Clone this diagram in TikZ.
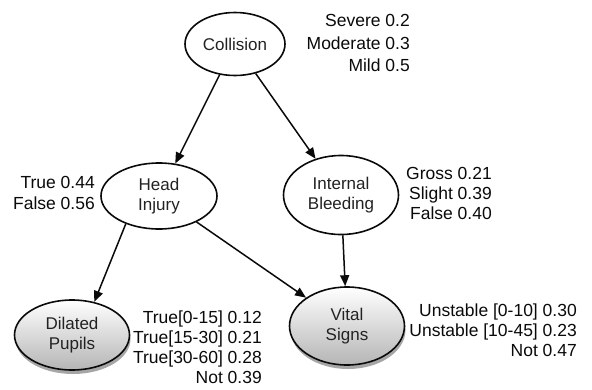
\documentclass[tikz,border=0pt]{standalone}
\usepackage{fontspec}
\setmainfont{Liberation Sans}
\usepackage{tikz}
\usetikzlibrary{arrows.meta,positioning,shapes.geometric,shadows}
\definecolor{ink}{HTML}{0A0A0A}
\definecolor{txt}{HTML}{222222}
\definecolor{shade}{HTML}{B5B5B5}
\tikzset{
  var/.style={ellipse, draw=ink, line width=1.6pt, fill=white, align=center,
              text=txt, inner sep=0pt, font=\fontsize{17}{20}\selectfont},
  obs/.style={var, top color=white, bottom color=shade,
              drop shadow={shadow xshift=1pt, shadow yshift=-4pt, fill=black, opacity=0.35}},
  cpt/.style={align=right, inner sep=0pt, text=ink, font=\fontsize{17.5}{20}\selectfont},
  fl/.style={-{Triangle[length=11pt,width=9pt]}, draw=ink, line width=1.5pt}
}

\begin{document}
\begin{tikzpicture}[x=1pt,y=-1pt]
  \useasboundingbox (0,0) rectangle (592,389);
  % variables
  \node[var, minimum width=100pt, minimum height=63pt] (coll) at (235,44) {Collision};
  \node[var, minimum width=116pt, minimum height=66pt] (head) at (159,196) {Head\\Injury};
  \node[var, minimum width=115pt, minimum height=79pt] (bleed) at (341,195) {Internal\\Bleeding};
  \node[obs, minimum width=115pt, minimum height=70pt] (pupil) at (72,335) {Dilated\\Pupils};
  \node[obs, minimum width=115pt, minimum height=78pt] (vital) at (347,326) {Vital\\Signs};

  % probability tables
  \node[cpt, anchor=east, font=\fontsize{17.5}{22.5}\selectfont] (pcoll) at (410,43) {Severe 0.2\\Moderate 0.3\\Mild 0.5};
  \node[cpt, anchor=east, font=\fontsize{17.5}{21}\selectfont] (phead) at (95,193) {True 0.44\\False 0.56};
  \node[cpt, anchor=east] (pbleed) at (492,193) {Gross 0.21\\Slight 0.39\\False 0.40};
  \node[cpt, anchor=east] (ppupil) at (262,347) {True[0-15] 0.12\\True[15-30] 0.21\\True[30-60] 0.28\\Not 0.39};
  \node[cpt, anchor=east] (pvital) at (577,330) {Unstable [0-10] 0.30\\Unstable [10-45] 0.23\\Not 0.47};

  \draw[fl] (coll) -- (head);
  \draw[fl] (coll) -- (bleed);
  \draw[fl] (head.220) -- (pupil.56);
  \draw[fl] (head) -- (vital);
  \draw[fl] (bleed) -- (vital);
\end{tikzpicture}
\end{document}
